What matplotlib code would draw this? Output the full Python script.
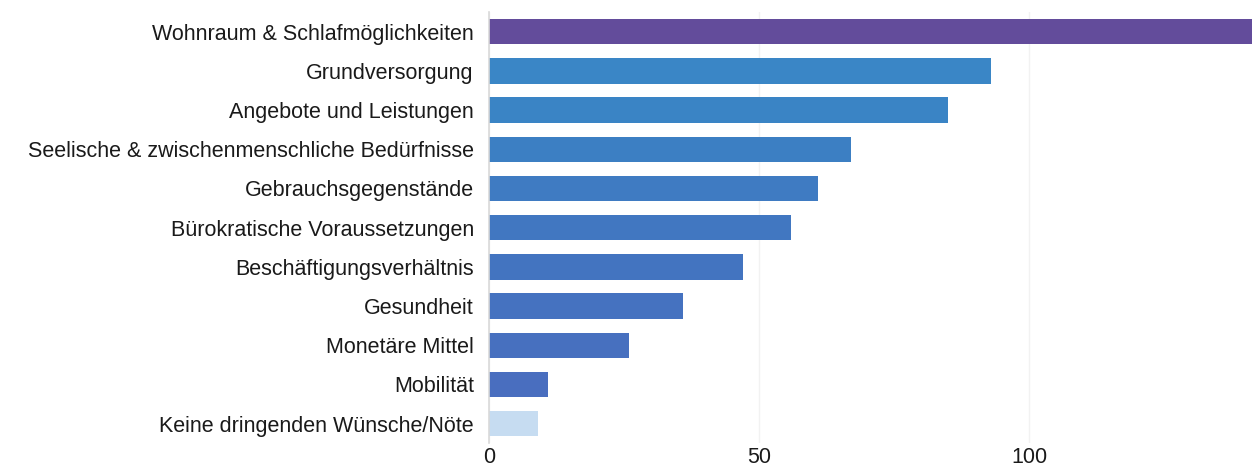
import matplotlib.pyplot as plt

categories = [
    'Wohnraum & Schlafmöglichkeiten',
    'Grundversorgung',
    'Angebote und Leistungen',
    'Seelische & zwischenmenschliche Bedürfnisse',
    'Gebrauchsgegenstände',
    'Bürokratische Voraussetzungen',
    'Beschäftigungsverhältnis',
    'Gesundheit',
    'Monetäre Mittel',
    'Mobilität',
    'Keine dringenden Wünsche/Nöte',
]
counts = [142, 93, 85, 67, 61, 56, 47, 36, 26, 11, 9]
bar_colors = ['#634c9b', '#3a86c6', '#3a84c5', '#3c7fc3', '#3f7bc2', '#4177c1',
              '#4374c0', '#4572c0', '#4770bf', '#496ebf', '#c6dcf1']
x_ticks = [0, 50, 100]

plt.rcParams['font.family'] = ['Liberation Sans', 'DejaVu Sans']

fig = plt.figure(figsize=(12.52, 4.68), dpi=100)
ax = fig.add_axes([0.3906, 0.053, 0.6094, 0.921])

ypos = range(len(categories))
ax.barh(ypos, counts, height=0.65, color=bar_colors, zorder=2)

ax.set_ylim(len(categories) - 0.5, -0.5)
ax.set_xlim(0, 141.3)
ax.set_yticks(list(ypos))
ax.set_yticklabels(categories, fontsize=15.5, color='#1a1a1a')
ax.set_xticks(x_ticks)
ax.set_xticklabels([str(t) for t in x_ticks], fontsize=15.5, color='#1a1a1a')
ax.tick_params(axis='both', length=0)
ax.tick_params(axis='y', pad=11)
ax.tick_params(axis='x', pad=3)

ax.grid(axis='x', color='#f2f2f2', linewidth=1, zorder=0)
for side in ['top', 'right', 'bottom']:
    ax.spines[side].set_visible(False)
ax.spines['left'].set_color('#d9d9d9')
ax.spines['left'].set_linewidth(1.2)

fig.savefig('out.png', dpi=100)
